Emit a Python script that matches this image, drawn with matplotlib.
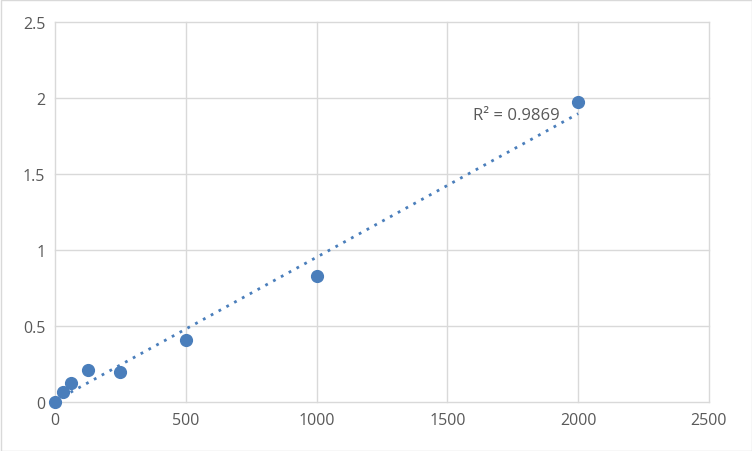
import numpy as np
import matplotlib
matplotlib.use("Agg")
import matplotlib.pyplot as plt
from matplotlib.patches import Rectangle

conc = [0, 31.25, 62.5, 125, 250, 500, 1000, 2000]
od = [0.0, 0.066, 0.125, 0.21, 0.197, 0.408, 0.83, 1.975]
xticks = [0, 500, 1000, 1500, 2000, 2500]
yticks = [0, 0.5, 1, 1.5, 2, 2.5]
ytick_labels = ["0", "0.5", "1", "1.5", "2", "2.5"]
r2_label = "R² = 0.9869"

plt.rcParams['font.family'] = ['Open Sans', 'DejaVu Sans']

fig = plt.figure(figsize=(7.52, 4.52), dpi=100)
ax = fig.add_axes([0.0731, 0.1084, 0.8697, 0.8406])

blue = "#4a7ebb"
grid = "#d9d9d9"
txt = "#595959"

x = np.array(conc)
y = np.array(od)
m, b = np.polyfit(x, y, 1)
xl = np.array([0, 2000])
ax.plot(xl, m * xl + b, linestyle=(0, (1, 2.2)), color=blue, lw=2.0, zorder=2)
ax.scatter(x, y, s=72, color=blue, zorder=3, clip_on=False)

ax.set_xlim(0, 2500)
ax.set_ylim(0, 2.5)
ax.set_xticks(xticks)
ax.set_yticks(yticks)
ax.set_yticklabels(ytick_labels)
ax.grid(True, color=grid, lw=1)
ax.set_axisbelow(True)
for ln in ax.get_xgridlines() + ax.get_ygridlines():
    ln.set_clip_on(False)
for s in ax.spines.values():
    s.set_visible(False)
ax.tick_params(length=0, labelsize=11.5, labelcolor=txt, pad=7)

ax.text(1762, 1.89, r2_label, ha="center", va="center", fontsize=12, color=txt)

fig.patches.append(Rectangle((0.5 / 752, 0.5 / 452), 1 - 1 / 752, 1 - 1 / 452,
                             transform=fig.transFigure, fill=False,
                             edgecolor="#d9d9d9", lw=1))
fig.savefig("out.png", dpi=100)
